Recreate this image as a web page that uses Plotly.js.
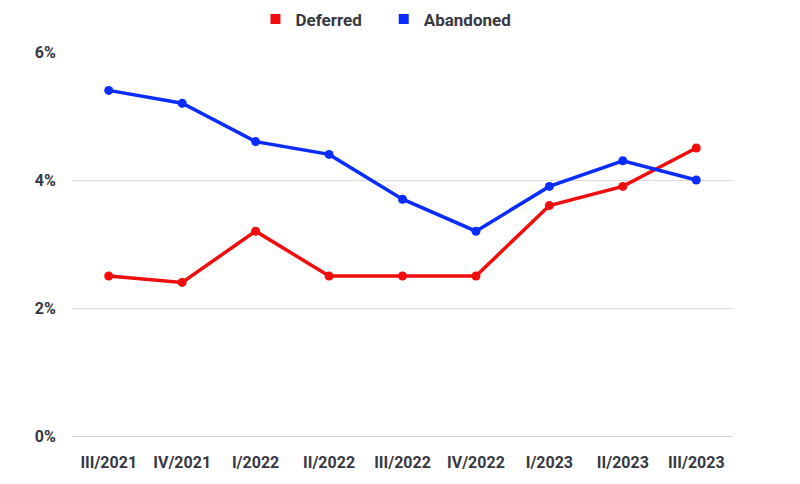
<!DOCTYPE html>
<html>
<head>
<meta charset="utf-8">
<script src="https://cdn.plot.ly/plotly-3.0.1.min.js"></script>
<style>body{margin:0;background:#fff}#myDiv{width:800px;height:484px}</style>
</head>
<body>
<div id="myDiv"></div>
<script>
var quarters = ['III/2021', 'IV/2021', 'I/2022', 'II/2022', 'III/2022', 'IV/2022', 'I/2023', 'II/2023', 'III/2023'];
var deferred = [2.5, 2.4, 3.2, 2.5, 2.5, 2.5, 3.6, 3.9, 4.5];
var abandoned = [5.4, 5.2, 4.6, 4.4, 3.7, 3.2, 3.9, 4.3, 4.0];
var tickVals = [0, 2, 4, 6];
var tickText = ['0%', '2%', '4%', '6%'];

var red = '#f00d0d';
var blue = '#0a2cff';

var trace1 = {
  x: quarters,
  y: deferred,
  mode: 'lines+markers',
  type: 'scatter',
  name: 'Deferred',
  legendgroup: 'd',
  showlegend: false,
  line: { color: red, width: 3.5 },
  marker: { color: red, size: 9 }
};

var trace2 = {
  x: quarters,
  y: abandoned,
  mode: 'lines+markers',
  type: 'scatter',
  name: 'Abandoned',
  legendgroup: 'a',
  showlegend: false,
  line: { color: blue, width: 3.5 },
  marker: { color: blue, size: 9 }
};

// square legend keys
var key1 = { x: [null], y: [null], mode: 'markers', type: 'scatter', name: 'Deferred&nbsp;&nbsp;&nbsp;&nbsp;',
  legendgroup: 'd', marker: { color: red, size: 10, symbol: 'square' } };
var key2 = { x: [null], y: [null], mode: 'markers', type: 'scatter', name: 'Abandoned',
  legendgroup: 'a', marker: { color: blue, size: 10, symbol: 'square' } };

var data = [ trace1, trace2, key1, key2 ];

var layout = {
  width: 800,
  height: 484,
  margin: { l: 72, r: 67, t: 52, b: 48 },
  paper_bgcolor: '#fff',
  plot_bgcolor: '#fff',
  font: { family: 'Roboto, Lato, sans-serif', color: '#383842', size: 16 },
  showlegend: true,
  legend: {
    orientation: 'h',
    x: 0.475, xanchor: 'center',
    y: 0.96, yanchor: 'middle',
    yref: 'container',
    font: { size: 17, weight: 'bold' },
    itemwidth: 30,
    traceorder: 'normal'
  },
  xaxis: {
    type: 'category',
    range: [-0.5, 8.5],
    showgrid: false,
    zeroline: false,
    showline: false,
    ticks: 'outside',
    tickcolor: '#fff',
    ticklen: 12,
    tickfont: { size: 16, weight: 'bold' }
  },
  yaxis: {
    range: [0, 6],
    tickvals: tickVals,
    ticktext: tickText,
    gridcolor: '#dcdcdc',
    gridwidth: 1,
    zeroline: true,
    zerolinecolor: '#d0d0d0',
    zerolinewidth: 1,
    showline: false,
    ticks: 'outside',
    tickcolor: '#fff',
    ticklen: 12,
    tickfont: { size: 16, weight: 'bold' }
  }
};

Plotly.newPlot('myDiv', data, layout, { displayModeBar: false });
</script>
</body>
</html>
